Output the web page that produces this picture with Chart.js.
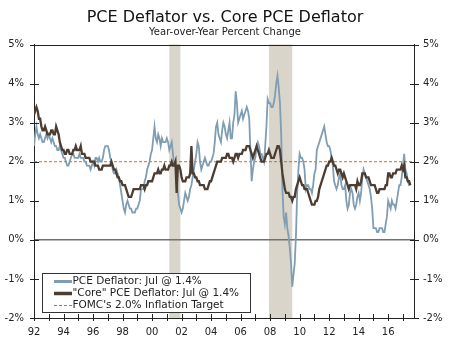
<!DOCTYPE html>
<html>
<head>
<meta charset="utf-8">
<script src="https://cdn.jsdelivr.net/npm/chart.js@4"></script>
<style>
  body { margin: 0; background: #fff; }
</style>
</head>
<body>
<canvas id="myChart" width="450" height="341"></canvas>
<script>
// monthly year-over-year % change, Jan 1992 .. Jul 2017
const startYear = 1992;

const pceValues = [
  2.4, 2.7, 2.9, 2.7, 2.6, 2.7, 2.6, 2.5, 2.5, 2.6, 2.7, 2.6, // 92
  2.7, 2.6, 2.5, 2.6, 2.5, 2.4, 2.4, 2.3, 2.3, 2.4, 2.3, 2.2, // 93
  2.1, 2.1, 2.0, 1.9, 1.9, 2.0, 2.1, 2.2, 2.2, 2.1, 2.1, 2.1, // 94
  2.1, 2.2, 2.1, 2.1, 2.1, 2.0, 2.0, 1.9, 1.9, 1.9, 1.8, 1.9, // 95
  2.0, 1.9, 2.1, 2.1, 2.0, 2.1, 2.0, 2.0, 2.1, 2.3, 2.4, 2.4, // 96
  2.4, 2.3, 2.1, 2.0, 1.8, 1.7, 1.7, 1.8, 1.7, 1.6, 1.4, 1.2, // 97
  1.0, 0.8, 0.7, 0.9, 1.0, 0.9, 0.8, 0.8, 0.7, 0.7, 0.7, 0.8, // 98
  0.8, 0.9, 1.0, 1.3, 1.3, 1.3, 1.5, 1.6, 1.8, 1.9, 2.0, 2.2, // 99
  2.3, 2.6, 2.9, 2.6, 2.5, 2.7, 2.6, 2.4, 2.6, 2.5, 2.5, 2.5, // 00
  2.6, 2.5, 2.3, 2.4, 2.5, 2.2, 1.9, 1.9, 1.6, 1.2, 0.9, 0.8, // 01
  0.7, 0.8, 1.0, 1.2, 1.1, 1.0, 1.1, 1.3, 1.4, 1.6, 1.8, 2.0, // 02
  2.2, 2.5, 2.4, 2.0, 1.8, 1.9, 2.0, 2.1, 2.0, 1.9, 1.9, 2.0, // 03
  2.0, 2.1, 2.2, 2.5, 2.9, 3.0, 2.7, 2.6, 2.5, 2.8, 3.0, 2.9, // 04
  2.7, 2.6, 2.8, 3.0, 2.6, 2.6, 3.0, 3.2, 3.8, 3.5, 3.0, 3.1, // 05
  3.2, 3.3, 3.1, 3.2, 3.3, 3.4, 3.3, 3.1, 2.3, 1.5, 1.8, 2.0, // 06
  2.1, 2.4, 2.5, 2.4, 2.2, 2.2, 2.1, 2.0, 2.4, 2.9, 3.6, 3.5, // 07
  3.5, 3.4, 3.4, 3.5, 3.7, 4.0, 4.2, 3.9, 3.5, 2.7, 1.3, 0.6, // 08
  0.4, 0.7, 0.3, 0.1, -0.2, -0.6, -1.2, -0.9, -0.6, 0.1, 1.2, 1.8, // 09
  2.2, 2.1, 2.1, 2.0, 1.8, 1.3, 1.4, 1.4, 1.3, 1.3, 1.2, 1.4, // 10
  1.7, 1.8, 2.3, 2.4, 2.5, 2.6, 2.7, 2.8, 2.9, 2.7, 2.5, 2.4, // 11
  2.4, 2.3, 2.1, 1.9, 1.5, 1.4, 1.3, 1.4, 1.6, 1.7, 1.4, 1.3, // 12
  1.3, 1.4, 1.0, 0.8, 0.9, 1.2, 1.3, 1.2, 0.9, 0.8, 0.9, 1.1, // 13
  1.2, 1.0, 1.2, 1.6, 1.8, 1.7, 1.6, 1.5, 1.4, 1.3, 1.1, 0.8, // 14
  0.3, 0.3, 0.3, 0.2, 0.2, 0.3, 0.3, 0.3, 0.2, 0.2, 0.4, 0.6, // 15
  1.0, 0.9, 0.8, 1.0, 0.9, 0.9, 0.8, 1.0, 1.2, 1.4, 1.4, 1.6, // 16
  1.9, 2.2, 1.8, 1.7, 1.5, 1.4, 1.4                           // 17
];

const coreValues = [
  3.2, 3.3, 3.4, 3.3, 3.1, 3.1, 2.9, 2.8, 2.8, 2.9, 2.8, 2.7, // 92
  2.7, 2.7, 2.8, 2.8, 2.7, 2.7, 2.9, 2.8, 2.7, 2.5, 2.4, 2.3, // 93
  2.3, 2.2, 2.2, 2.3, 2.3, 2.2, 2.2, 2.2, 2.3, 2.3, 2.4, 2.3, // 94
  2.3, 2.3, 2.4, 2.2, 2.2, 2.2, 2.1, 2.1, 2.1, 2.1, 2.0, 2.0, // 95
  2.0, 2.0, 1.9, 1.9, 1.9, 1.8, 1.8, 1.8, 1.9, 1.9, 1.9, 1.9, // 96
  1.9, 1.9, 1.9, 2.0, 1.9, 1.8, 1.8, 1.7, 1.6, 1.6, 1.5, 1.5, // 97
  1.4, 1.4, 1.4, 1.3, 1.2, 1.1, 1.1, 1.1, 1.2, 1.3, 1.3, 1.3, // 98
  1.3, 1.3, 1.3, 1.4, 1.4, 1.4, 1.3, 1.4, 1.4, 1.5, 1.5, 1.5, // 99
  1.5, 1.6, 1.7, 1.7, 1.7, 1.8, 1.7, 1.7, 1.8, 1.8, 1.9, 1.8, // 00
  1.8, 1.8, 1.9, 1.9, 2.0, 1.9, 1.9, 2.0, 1.2, 1.9, 1.9, 1.8, // 01
  1.6, 1.5, 1.5, 1.5, 1.6, 1.6, 1.6, 1.7, 2.4, 1.7, 1.7, 1.6, // 02
  1.6, 1.5, 1.5, 1.4, 1.4, 1.4, 1.4, 1.3, 1.3, 1.3, 1.4, 1.5, // 03
  1.5, 1.6, 1.7, 1.8, 1.9, 2.0, 2.0, 2.0, 2.0, 2.1, 2.1, 2.1, // 04
  2.1, 2.2, 2.2, 2.1, 2.1, 2.1, 2.0, 2.1, 2.2, 2.2, 2.1, 2.2, // 05
  2.2, 2.2, 2.3, 2.3, 2.3, 2.4, 2.4, 2.4, 2.3, 2.2, 2.1, 2.2, // 06
  2.3, 2.4, 2.3, 2.2, 2.1, 2.0, 2.0, 2.0, 2.1, 2.2, 2.2, 2.3, // 07
  2.2, 2.1, 2.1, 2.1, 2.2, 2.3, 2.4, 2.4, 2.3, 2.0, 1.7, 1.5, // 08
  1.3, 1.2, 1.2, 1.2, 1.1, 1.1, 1.0, 1.1, 1.1, 1.3, 1.4, 1.5, // 09
  1.6, 1.5, 1.4, 1.4, 1.3, 1.3, 1.3, 1.2, 1.1, 1.0, 0.9, 0.9, // 10
  0.9, 1.0, 1.0, 1.1, 1.3, 1.4, 1.5, 1.6, 1.7, 1.8, 1.9, 1.9, // 11
  2.0, 2.0, 2.1, 2.0, 1.9, 1.9, 1.8, 1.7, 1.8, 1.8, 1.7, 1.6, // 12
  1.7, 1.6, 1.5, 1.4, 1.3, 1.4, 1.4, 1.4, 1.4, 1.4, 1.3, 1.5, // 13
  1.4, 1.4, 1.5, 1.7, 1.7, 1.7, 1.6, 1.6, 1.6, 1.5, 1.4, 1.4, // 14
  1.4, 1.4, 1.3, 1.2, 1.2, 1.3, 1.3, 1.3, 1.3, 1.3, 1.4, 1.4, // 15
  1.7, 1.7, 1.6, 1.6, 1.7, 1.7, 1.7, 1.8, 1.8, 1.8, 1.8, 1.9, // 16
  1.8, 1.9, 1.6, 1.6, 1.5, 1.5, 1.4                           // 17
];

const targetRate = 2.0;
const recessions = [[2001.17, 2001.92], [2007.92, 2009.5]];
const yTickValues = [-2, -1, 0, 1, 2, 3, 4, 5];
const xMin = 1992, xMax = 2017.75;
const seriesLabels = [
  'PCE Deflator: Jul @ 1.4%',
  '"Core" PCE Deflator: Jul @ 1.4%',
  "FOMC's 2.0% Inflation Target"
];

const toPoints = (arr) => arr.map((v, i) => ({ x: startYear + i / 12, y: v }));

const FONT = 'DejaVu Sans';
const tickFont = { family: FONT, size: 10 };

// recession shading, framing ticks and the boxed legend
const decor = {
  id: 'decor',
  beforeDraw(chart) {
    const { ctx, chartArea: a, scales: { x } } = chart;
    ctx.save();
    ctx.fillStyle = '#d9d5cb';
    recessions.forEach(([s, e]) => {
      const x0 = x.getPixelForValue(s), x1 = x.getPixelForValue(e);
      ctx.fillRect(x0, a.top, x1 - x0, a.bottom - a.top);
    });
    ctx.restore();
  },
  afterDraw(chart) {
    const { ctx, chartArea: a, scales: { x, y } } = chart;
    ctx.save();
    ctx.strokeStyle = '#222';
    ctx.lineWidth = 1;
    ctx.beginPath();
    ctx.moveTo(a.left, Math.round(a.top) + 0.5);
    ctx.lineTo(a.right, Math.round(a.top) + 0.5);
    // ticks crossing the axes
    y.ticks.forEach(t => {
      const py = Math.round(y.getPixelForValue(t.value)) + 0.5;
      ctx.moveTo(a.left - 4, py); ctx.lineTo(a.left + 5, py);
      ctx.moveTo(a.right - 4, py); ctx.lineTo(a.right + 5, py);
    });
    x.ticks.forEach(t => {
      const px = Math.round(x.getPixelForValue(t.value)) + 0.5;
      ctx.moveTo(px, a.bottom - 4); ctx.lineTo(px, a.bottom + 3);
    });
    ctx.stroke();

    // legend
    const bx = 42.5, by = 273.5, bw = 208, bh = 39;
    ctx.fillStyle = '#fff';
    ctx.fillRect(bx, by, bw, bh);
    ctx.strokeStyle = '#333';
    ctx.strokeRect(bx, by, bw, bh);
    const rows = [281, 293, 305];
    const sampleW = [3, 3.5, 1];
    chart.data.datasets.forEach((ds, i) => {
      const ry = rows[i] + 0.5;
      ctx.beginPath();
      ctx.strokeStyle = ds.borderColor;
      ctx.lineWidth = sampleW[i];
      ctx.setLineDash(ds.borderDash || []);
      ctx.moveTo(54, ry); ctx.lineTo(72, ry);
      ctx.stroke();
      ctx.setLineDash([]);
      ctx.fillStyle = '#222';
      ctx.font = '10.5px "' + FONT + '"';
      ctx.textBaseline = 'middle';
      ctx.fillText(ds.label, 72.5, rows[i] + 0.5);
    });
    ctx.restore();
  }
};

new Chart(document.getElementById('myChart'), {
  type: 'line',
  data: {
    datasets: [
      {
        label: seriesLabels[0],
        data: toPoints(pceValues),
        borderColor: '#7f9db3',
        borderWidth: 1.8,
        pointRadius: 0,
        tension: 0,
        order: 1
      },
      {
        label: seriesLabels[1],
        data: toPoints(coreValues),
        borderColor: '#4b3d31',
        borderWidth: 2.3,
        pointRadius: 0,
        tension: 0,
        order: 0
      },
      {
        label: seriesLabels[2],
        data: [{ x: xMin, y: targetRate }, { x: xMax, y: targetRate }],
        borderColor: '#c8712b',
        borderWidth: 1,
        borderDash: [3, 2],
        pointRadius: 0,
        order: 2
      }
    ]
  },
  options: {
    responsive: false,
    animation: false,
    devicePixelRatio: 1,
    layout: { padding: 0 },
    plugins: {
      legend: { display: false },
      tooltip: { enabled: false },
      title: {
        display: true,
        text: 'PCE Deflator vs. Core PCE Deflator',
        color: '#111',
        font: { family: FONT, size: 16, weight: 'normal', lineHeight: 1.0 },
        padding: { top: 9.5, bottom: 0 }
      },
      subtitle: {
        display: true,
        text: 'Year-over-Year Percent Change',
        color: '#222',
        font: { family: FONT, size: 10, lineHeight: 1.0 },
        padding: { top: 1.5, bottom: 7.5 }
      }
    },
    scales: {
      x: {
        type: 'linear',
        min: xMin,
        max: xMax,
        ticks: {
          stepSize: 1,
          includeBounds: false,
          autoSkip: false,
          maxRotation: 0,
          padding: 8,
          color: '#222',
          font: tickFont,
          callback: v => (v % 2 === 0 ? String(v).slice(2) : '')
        },
        grid: { drawOnChartArea: false, drawTicks: false },
        border: { display: true, color: '#222' },
        afterFit: s => { s.height = 23; }
      },
      y: {
        position: 'left',
        min: -2,
        max: 5,
        afterBuildTicks: s => { s.ticks = yTickValues.map(v => ({ value: v })); },
        ticks: { padding: 10, color: '#222', font: tickFont, callback: v => v + '%' },
        grid: {
          drawTicks: false,
          color: c => (c.tick && c.tick.value === 0 ? '#707070' : 'rgba(0,0,0,0)'),
          lineWidth: 1.6
        },
        border: { display: true, color: '#222' },
        afterFit: s => { s.width = 34; }
      },
      y2: {
        position: 'right',
        min: -2,
        max: 5,
        afterBuildTicks: s => { s.ticks = yTickValues.map(v => ({ value: v })); },
        ticks: { padding: 9, color: '#222', font: tickFont, callback: v => v + '%' },
        grid: { drawOnChartArea: false, drawTicks: false },
        border: { display: true, color: '#222' },
        afterFit: s => { s.width = 36; }
      }
    }
  },
  plugins: [decor]
});
</script>
</body>
</html>
